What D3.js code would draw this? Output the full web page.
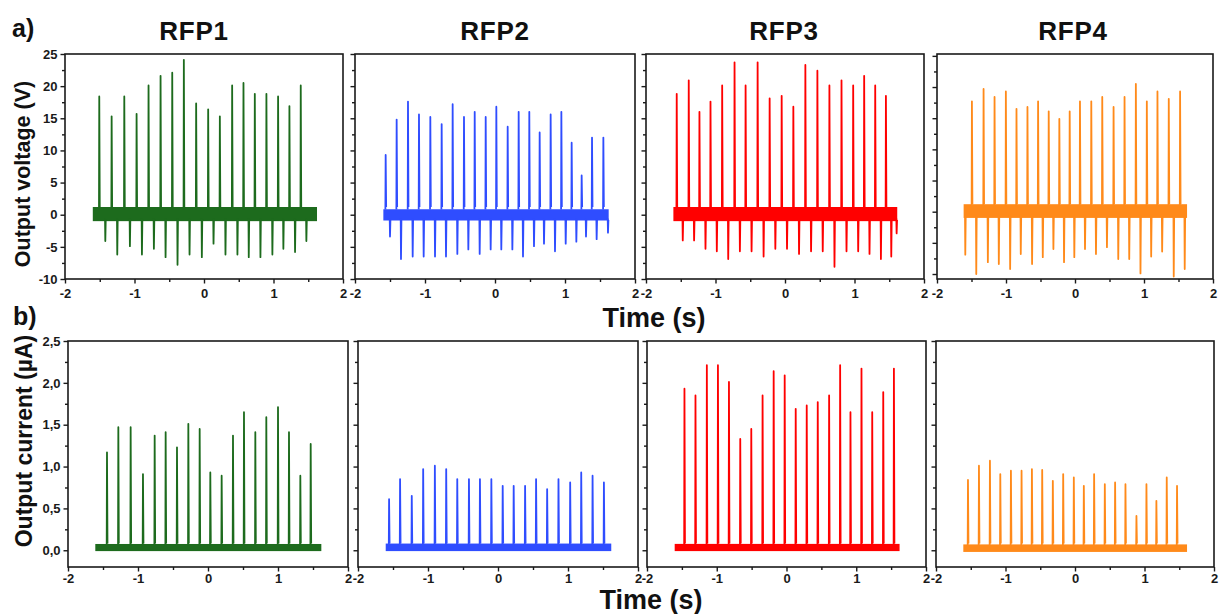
<!DOCTYPE html>
<html><head><meta charset="utf-8">
<script src="https://cdn.jsdelivr.net/npm/d3@7"></script>
<style>
html,body{margin:0;padding:0;background:#fff;}
svg{display:block;font-family:"Liberation Sans",Arial,sans-serif;}
</style></head>
<body>
<svg id="chart" width="1219" height="614"></svg>
<script>
// ---------------- DATA ----------------
const categories = ["RFP1", "RFP2", "RFP3", "RFP4"];
const colors = ["#1d6b1d", "#2f4dff", "#ff0000", "#ff8a1a"];
const timeTicks = [-2, -1, 0, 1, 2];
const voltageTicks = [-10, -5, 0, 5, 10, 15, 20, 25];
const currentTicks = [0, 0.5, 1, 1.5, 2, 2.5];

// Output voltage: positive peaks (time, V) and negative peaks (time, V)
const rfp1VUpT = [-1.507,-1.329,-1.147,-0.970,-0.798,-0.625,-0.457,-0.290,-0.113,0.060,0.228,0.405,0.568,0.731,0.898,1.066,1.229,1.392];
const rfp1VUp  = [18.4,15.3,18.4,15.7,20.1,21.6,22.1,24.1,17.3,16.4,15.3,20.1,20.5,18.8,18.8,18.4,16.9,20.1];
const rfp1VDnT = [-1.420,-1.248,-1.066,-0.893,-0.721,-0.553,-0.381,-0.208,-0.031,0.137,0.309,0.481,0.644,0.812,0.984,1.142,1.310,1.473];
const rfp1VDn  = [-4.1,-6.2,-4.9,-6.2,-5.3,-6.6,-7.8,-6.2,-6.6,-4.5,-6.2,-6.2,-6.6,-6.6,-6.2,-5.3,-5.8,-4.1];

const rfp2VUpT = [-1.562,-1.405,-1.243,-1.086,-0.924,-0.762,-0.605,-0.443,-0.290,-0.133,0.019,0.181,0.338,0.490,0.638,0.795,0.948,1.095,1.238,1.386,1.548];
const rfp2VUp  = [9.3,14.8,17.6,15.6,15.2,14.1,17.2,15.2,16.0,15.2,16.8,13.7,16.0,16.0,12.8,15.6,16.0,11.2,6.1,12.0,12.0];
const rfp2VDnT = [-1.500,-1.343,-1.176,-1.019,-0.857,-0.700,-0.538,-0.381,-0.219,-0.062,0.090,0.248,0.400,0.557,0.700,0.857,1.010,1.162,1.300,1.452,1.614];
const rfp2VDn  = [-3.4,-6.9,-6.5,-6.5,-6.5,-6.5,-6.1,-5.4,-6.1,-5.4,-5.4,-5.4,-6.5,-4.9,-4.5,-5.7,-4.5,-4.2,-3.4,-3.8,-2.8];

const rfp3VUpT = [-1.558,-1.385,-1.231,-1.072,-0.904,-0.726,-0.567,-0.394,-0.221,-0.048,0.120,0.293,0.466,0.639,0.813,0.981,1.139,1.298,1.452];
const rfp3VUp  = [18.8,20.9,16.0,17.6,20.1,23.7,20.1,23.7,18.1,18.5,16.8,23.3,22.4,20.1,20.9,20.1,21.6,20.1,18.5];
const rfp3VDnT = [-1.471,-1.308,-1.144,-0.981,-0.817,-0.649,-0.481,-0.308,-0.139,0.029,0.202,0.375,0.543,0.712,0.885,1.053,1.216,1.380,1.529,1.606];
const rfp3VDn  = [-4.0,-4.0,-5.3,-5.7,-6.9,-5.7,-5.7,-6.5,-5.3,-5.3,-6.1,-5.7,-5.7,-8.1,-5.7,-5.7,-6.1,-6.9,-6.5,-2.9];

const rfp4VUpT = [-1.494,-1.325,-1.166,-1.002,-0.848,-0.689,-0.535,-0.381,-0.227,-0.077,0.072,0.236,0.395,0.559,0.718,0.882,1.041,1.195,1.359,1.523];
const rfp4VUp  = [17.7,19.7,18.4,19.3,16.5,16.8,17.7,16.1,14.9,16.1,17.7,17.7,18.4,16.8,18.4,20.5,17.7,19.3,18.1,19.3];
const rfp4VDnT = [-1.590,-1.431,-1.263,-1.104,-0.940,-0.786,-0.622,-0.467,-0.313,-0.159,-0.010,0.145,0.304,0.463,0.627,0.786,0.949,1.104,1.263,1.431,1.590];
const rfp4VDn  = [-6.9,-10.0,-8.1,-8.4,-9.2,-6.8,-8.4,-7.3,-6.0,-8.1,-7.3,-6.0,-6.8,-5.7,-7.6,-7.6,-9.9,-7.2,-6.4,-10.4,-9.2];

// Voltage baseline noise band: start time, end time, low V, high V
const vBandStart = [-1.600, -1.595, -1.606, -1.614];
const vBandEnd   = [1.626, 1.624, 1.615, 1.624];
const vBandLow   = [-1.0, -0.9, -1.0, -1.0];
const vBandHigh  = [1.2, 0.85, 1.2, 1.2];

// Output current peaks (time, µA)
const rfp1IT = [-1.443,-1.281,-1.105,-0.929,-0.762,-0.605,-0.443,-0.281,-0.119,0.033,0.195,0.357,0.514,0.676,0.833,1.000,1.157,1.319,1.467];
const rfp1I  = [1.17,1.47,1.47,0.91,1.37,1.41,1.23,1.51,1.45,0.93,0.89,1.37,1.65,1.41,1.59,1.71,1.41,0.89,1.27];
const rfp2IT = [-1.556,-1.399,-1.232,-1.069,-0.902,-0.740,-0.582,-0.415,-0.258,-0.095,0.067,0.224,0.387,0.544,0.702,0.864,1.031,1.189,1.351,1.513];
const rfp2I  = [0.61,0.85,0.65,0.97,1.01,0.97,0.85,0.85,0.85,0.85,0.77,0.77,0.77,0.85,0.73,0.85,0.81,0.93,0.89,0.81];
const rfp3IT = [-1.463,-1.305,-1.142,-0.983,-0.825,-0.663,-0.505,-0.343,-0.184,-0.026,0.132,0.290,0.448,0.611,0.769,0.917,1.075,1.229,1.387,1.540];
const rfp3I  = [1.93,1.85,2.21,2.21,2.01,1.33,1.45,1.85,2.14,2.09,1.69,1.73,1.77,1.85,2.21,1.65,2.17,1.65,1.89,2.17];
const rfp4IT = [-1.540,-1.382,-1.224,-1.075,-0.922,-0.769,-0.620,-0.472,-0.319,-0.170,-0.017,0.127,0.275,0.429,0.577,0.726,0.884,1.028,1.171,1.320,1.468];
const rfp4I  = [0.84,1.01,1.07,0.91,0.95,0.95,0.97,0.96,0.83,0.91,0.87,0.77,0.91,0.79,0.81,0.79,0.41,0.79,0.59,0.87,0.77];

// Current baseline noise band
const iBandStart = [-1.610, -1.604, -1.603, -1.607];
const iBandEnd   = [1.619, 1.618, 1.621, 1.612];
const iBandLow   = [-0.01, -0.01, -0.01, -0.02];
const iBandHigh  = [0.075, 0.08, 0.076, 0.07];

const voltageDomains = [[-10, 25], [-10, 25], [-10, 25], [-10.8, 25.3]];
const currentDomain = [-0.2, 2.5];
const timeDomain = [-2, 2];

// ---------------- LAYOUT ----------------
const topX0 = [65, 355, 646, 937], topX1 = [343, 635, 924, 1213];
const topY0 = 54, topY1 = 279;
const botX0 = [68, 358, 647, 936], botX1 = [348, 638, 926, 1214];
const botY0 = 341, botY1 = 567;
const titleX = [194, 495, 784, 1073];

const vUpT = [rfp1VUpT, rfp2VUpT, rfp3VUpT, rfp4VUpT];
const vUp = [rfp1VUp, rfp2VUp, rfp3VUp, rfp4VUp];
const vDnT = [rfp1VDnT, rfp2VDnT, rfp3VDnT, rfp4VDnT];
const vDn = [rfp1VDn, rfp2VDn, rfp3VDn, rfp4VDn];
const iT = [rfp1IT, rfp2IT, rfp3IT, rfp4IT];
const iV = [rfp1I, rfp2I, rfp3I, rfp4I];

const svg = d3.select("#chart");
const INK = "#1a1a1a";
const plain = d => String(d);
const comma = d => d.toFixed(1).replace(".", ",");

function styleAxis(g) {
  g.select(".domain").remove();
  g.selectAll(".tick line").attr("stroke", INK).attr("stroke-width", 1.4);
  g.selectAll(".tick text").attr("fill", INK).attr("font-weight", "bold").attr("font-size", 13)
    .attr("font-family", '"Liberation Sans", Arial, sans-serif');
}

function panel(opts) {
  const {x0, x1, y0, y1, yDomain, yTicks, yMinor, showYLabels, yFmt, xPad} = opts;
  const x = d3.scaleLinear().domain(timeDomain).range([x0, x1]);
  const y = d3.scaleLinear().domain(yDomain).range([y1, y0]);
  const g = svg.append("g");

  g.append("g").attr("transform", `translate(0,${y1})`)
    .call(d3.axisBottom(x).tickValues([-1.5,-0.5,0.5,1.5]).tickSize(3).tickFormat(""))
    .call(styleAxis);
  g.append("g").attr("transform", `translate(0,${y1})`)
    .call(d3.axisBottom(x).tickValues(timeTicks).tickSize(4.5).tickPadding(xPad).tickFormat(plain))
    .call(styleAxis);
  g.append("g").attr("transform", `translate(${x0},0)`)
    .call(d3.axisLeft(y).tickValues(yMinor).tickSize(3).tickFormat(""))
    .call(styleAxis);
  g.append("g").attr("transform", `translate(${x0},0)`)
    .call(d3.axisLeft(y).tickValues(yTicks).tickSize(4.5).tickPadding(3)
      .tickFormat(showYLabels ? yFmt : ""))
    .call(styleAxis);

  g.append("rect").attr("x", x0).attr("y", y0).attr("width", x1 - x0).attr("height", y1 - y0)
    .attr("fill", "none").attr("stroke", INK).attr("stroke-width", 1.6);
  return {g, x, y};
}

for (let k = 0; k < 4; k++) {
  // ---- voltage (top row) ----
  const vMinor = d3.range(-7.5, 25, 5);
  const P = panel({x0: topX0[k], x1: topX1[k], y0: topY0, y1: topY1, yDomain: voltageDomains[k],
    yTicks: voltageTicks, yMinor: vMinor, showYLabels: k === 0, yFmt: plain, xPad: 5});
  const {g, x, y} = P;
  g.append("rect")
    .attr("x", x(vBandStart[k])).attr("width", x(vBandEnd[k]) - x(vBandStart[k]))
    .attr("y", y(vBandHigh[k])).attr("height", y(vBandLow[k]) - y(vBandHigh[k]))
    .attr("fill", colors[k]);
  const line = d3.line().x(d => x(d[0])).y(d => y(d[1]));
  vUpT[k].forEach((t, j) => {
    g.append("path").attr("d", line([[t - 0.004, 0.8], [t, vUp[k][j]], [t + 0.007, 1.2]]))
      .attr("fill", "none").attr("stroke", colors[k]).attr("stroke-width", 1.8).attr("stroke-linejoin", "round");
  });
  vDnT[k].forEach((t, j) => {
    g.append("path").attr("d", line([[t - 0.004, -0.6], [t, vDn[k][j]], [t + 0.006, -0.8]]))
      .attr("fill", "none").attr("stroke", colors[k]).attr("stroke-width", 1.8).attr("stroke-linejoin", "round");
  });

  // ---- current (bottom row) ----
  const iMinor = d3.range(0.25, 2.5, 0.5);
  const Q = panel({x0: botX0[k], x1: botX1[k], y0: botY0, y1: botY1, yDomain: currentDomain,
    yTicks: currentTicks, yMinor: iMinor, showYLabels: k === 0, yFmt: comma, xPad: 2});
  const xb = Q.x, yb = Q.y, gb = Q.g;
  gb.append("rect")
    .attr("x", xb(iBandStart[k])).attr("width", xb(iBandEnd[k]) - xb(iBandStart[k]))
    .attr("y", yb(iBandHigh[k])).attr("height", yb(iBandLow[k]) - yb(iBandHigh[k]))
    .attr("fill", colors[k]);
  const lineB = d3.line().x(d => xb(d[0])).y(d => yb(d[1]));
  iT[k].forEach((t, j) => {
    gb.append("path").attr("d", lineB([[t - 0.004, 0.05], [t, iV[k][j]], [t + 0.007, 0.08]]))
      .attr("fill", "none").attr("stroke", colors[k]).attr("stroke-width", 1.8).attr("stroke-linejoin", "round");
  });

  svg.append("text").attr("x", titleX[k]).attr("y", 40).attr("text-anchor", "middle")
    .attr("font-size", 26).attr("letter-spacing", 0.8).attr("font-weight", "bold").attr("fill", "#111").text(categories[k]);
}

svg.append("text").attr("x", 12).attr("y", 37).attr("font-size", 25).attr("font-weight", "bold").attr("fill", "#111").text("a)");
svg.append("text").attr("x", 13).attr("y", 325).attr("font-size", 25).attr("font-weight", "bold").attr("fill", "#111").text("b)");
svg.append("text").attr("x", 654).attr("y", 327).attr("text-anchor", "middle")
  .attr("font-size", 27).attr("font-weight", "bold").attr("fill", "#111").text("Time (s)");
svg.append("text").attr("x", 651).attr("y", 609).attr("text-anchor", "middle")
  .attr("font-size", 27).attr("font-weight", "bold").attr("fill", "#111").text("Time (s)");
svg.append("text").attr("transform", "translate(30,174) rotate(-90)").attr("text-anchor", "middle")
  .attr("font-size", 21.5).attr("font-weight", "bold").attr("fill", "#111").text("Output voltage (V)");
svg.append("text").attr("transform", "translate(32,441) rotate(-90)").attr("text-anchor", "middle")
  .attr("font-size", 23).attr("font-weight", "bold").attr("fill", "#111").text("Output current (µA)");
</script>
</body></html>
